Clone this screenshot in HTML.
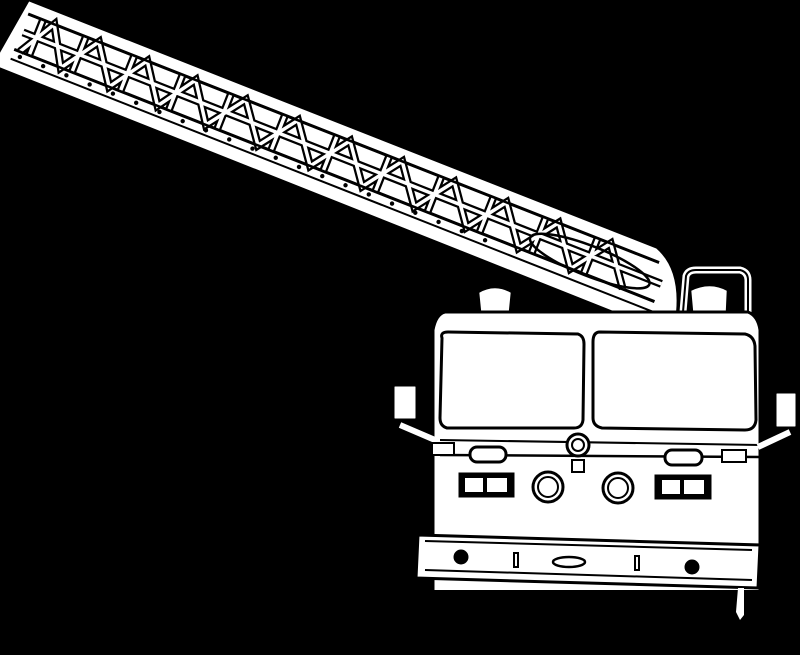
<!DOCTYPE html>
<html><head><meta charset="utf-8"><style>html,body{margin:0;padding:0;background:#000}svg{display:block}</style></head>
<body>
<svg width="800" height="655" viewBox="0 0 800 655" xmlns="http://www.w3.org/2000/svg">
<defs>
  <path id="tr" d="M8,48 L30,10 L52,48 L78,10 L104,48 L130,10 L156,48 L182,10 L208,48 L236,10 L264,48 L292,10 L320,48 L348,10 L376,48 L404,10 L432,48 L460,10 L488,48 L516,10 L544,48 L572,10 L600,48 L628,10 L656,48 M18,10 L18,48 M64,10 L64,48 M116,10 L116,48 M168,10 L168,48 M220,10 L220,48 M278,10 L278,48 M334,10 L334,48 M390,10 L390,48 M446,10 L446,48 M502,10 L502,48 M558,10 L558,48 M614,10 L614,48 M4,29 L690,29"/>
</defs>
<rect width="800" height="655" fill="#000"/>
<!-- ladder -->
<g transform="translate(30,4) rotate(21.5)" stroke="#000" fill="none">
  <path d="M0,0 L672,0 Q700,10 712,50 L705,70 L-4,68 L-8,56 Z" fill="#fff" stroke="#fff" stroke-width="4"/>
  <line x1="2" y1="10" x2="680" y2="10" stroke-width="3"/>
  <line x1="2" y1="48" x2="690" y2="48" stroke-width="3"/>
  <line x1="2" y1="58" x2="700" y2="58" stroke-width="2"/>
  <use href="#tr" stroke="#000" stroke-width="8"/>
  <use href="#tr" stroke="#fff" stroke-width="3.5"/>
  <line x1="2" y1="10" x2="680" y2="10" stroke-width="2.5"/>
  <line x1="2" y1="48" x2="690" y2="48" stroke-width="2.5"/>
  <ellipse cx="615" cy="34" rx="64" ry="15" stroke-width="2.5"/>
  <g fill="#000" stroke="none">
    <circle cx="10" cy="53" r="2.2"/><circle cx="35" cy="53" r="2.2"/><circle cx="60" cy="53" r="2.2"/><circle cx="85" cy="53" r="2.2"/><circle cx="110" cy="53" r="2.2"/><circle cx="135" cy="53" r="2.2"/><circle cx="160" cy="53" r="2.2"/><circle cx="185" cy="53" r="2.2"/><circle cx="210" cy="53" r="2.2"/><circle cx="235" cy="53" r="2.2"/><circle cx="260" cy="53" r="2.2"/><circle cx="285" cy="53" r="2.2"/><circle cx="310" cy="53" r="2.2"/><circle cx="335" cy="53" r="2.2"/><circle cx="360" cy="53" r="2.2"/><circle cx="385" cy="53" r="2.2"/><circle cx="410" cy="53" r="2.2"/><circle cx="435" cy="53" r="2.2"/><circle cx="460" cy="53" r="2.2"/><circle cx="485" cy="53" r="2.2"/><circle cx="510" cy="53" r="2.2"/>
  </g>
</g>
<!-- turntable supports -->
<g fill="#fff" stroke="#000" stroke-width="2.5">
  <path d="M480,312 L478,292 Q495,282 512,292 L510,312 Z"/>
  <path d="M692,312 L690,290 Q710,280 728,290 L727,312 Z"/>
  <path d="M683,312 L686,276 Q688,270 696,270 L740,270 Q748,272 748,280 L748,312" fill="none" stroke="#fff" stroke-width="7"/>
  <path d="M683,312 L686,276 Q688,270 696,270 L740,270 Q748,272 748,280 L748,312" fill="none" stroke="#000" stroke-width="2"/>
</g>
<!-- cab -->
<g stroke="#000" stroke-width="3">
  <path d="M445,312 L748,312 Q758,316 760,330 L760,600 L433,600 L433,330 Q436,314 445,312 Z" fill="#fff"/>
  <path d="M442,338 Q440,332 448,332 L578,334 Q584,336 584,344 L583,420 Q582,428 574,428 L447,428 Q440,426 440,418 Z" fill="#fff"/>
  <path d="M600,332 L745,334 Q754,336 755,346 L756,420 Q755,430 745,430 L602,428 Q593,426 593,418 L593,342 Q593,332 600,332 Z" fill="#fff"/>
  <line x1="440" y1="440" x2="760" y2="445" stroke-width="2"/>
  <line x1="440" y1="455" x2="760" y2="457" stroke-width="2.5"/>
  <rect x="470" y="447" width="36" height="15" rx="7" fill="#fff"/>
  <rect x="665" y="450" width="37" height="15" rx="7" fill="#fff"/>
  <circle cx="578" cy="445" r="11" fill="#fff"/>
  <circle cx="578" cy="445" r="6" fill="#fff" stroke-width="2"/>
  <rect x="572" y="460" width="12" height="12" fill="#fff" stroke-width="2"/>
  <rect x="460" y="474" width="53" height="22" fill="#000"/>
  <rect x="465" y="478" width="18" height="14" fill="#fff" stroke="none"/><rect x="487" y="478" width="20" height="14" fill="#fff" stroke="none"/>
  <rect x="656" y="476" width="54" height="22" fill="#000"/>
  <rect x="662" y="480" width="18" height="14" fill="#fff" stroke="none"/><rect x="684" y="480" width="20" height="14" fill="#fff" stroke="none"/>
  <circle cx="548" cy="487" r="15" fill="#fff"/><circle cx="548" cy="487" r="10" fill="#fff" stroke-width="2"/>
  <circle cx="618" cy="488" r="15" fill="#fff"/><circle cx="618" cy="488" r="10" fill="#fff" stroke-width="2"/>
  <rect x="393" y="385" width="24" height="35" rx="2" fill="#fff"/>
  <rect x="775" y="392" width="22" height="36" rx="2" fill="#fff"/>
  <path d="M400,425 L435,440 L435,450" fill="none" stroke="#fff" stroke-width="6"/>
  <path d="M790,432 L758,447" fill="none" stroke="#fff" stroke-width="6"/>
  <rect x="432" y="443" width="22" height="12" fill="#fff" stroke-width="2"/>
  <rect x="722" y="450" width="24" height="12" fill="#fff" stroke-width="2"/>
  <path d="M418,535 L760,545 L758,588 L416,578 Z" fill="#fff"/>
  <line x1="425" y1="541" x2="752" y2="550" stroke-width="2"/>
  <line x1="425" y1="570" x2="752" y2="580" stroke-width="2"/>
  <circle cx="461" cy="557" r="6" fill="#000"/>
  <circle cx="692" cy="567" r="6" fill="#000"/>
  <ellipse cx="569" cy="562" rx="16" ry="5" fill="#fff" stroke-width="2.5"/>
  <rect x="514" y="553" width="4" height="14" fill="#fff" stroke-width="2"/>
  <rect x="635" y="556" width="4" height="14" fill="#fff" stroke-width="2"/>
</g>
<rect x="420" y="590" width="345" height="65" fill="#000"/>
<path d="M738,588 L744,588 L744,615 L740,620 L736,612 Z" fill="#fff"/>
</svg>
</body></html>
